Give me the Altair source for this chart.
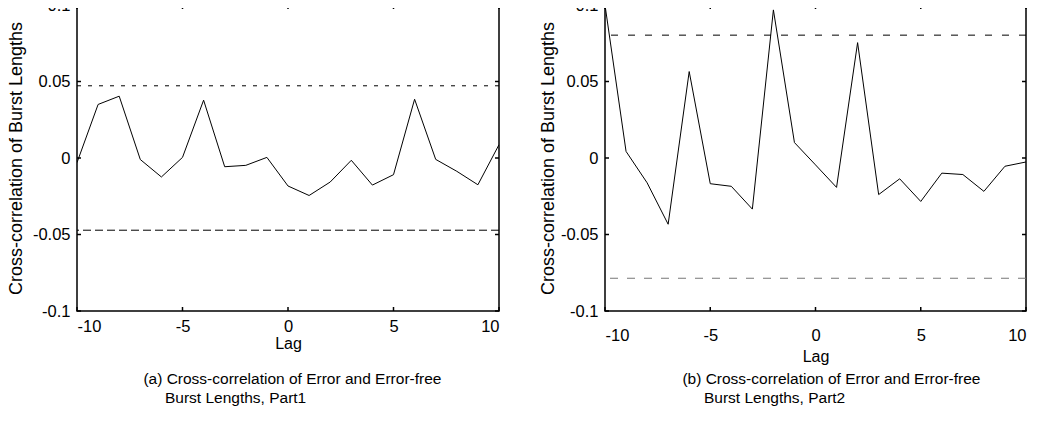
import altair as alt
import pandas as pd

lags = list(range(-10, 11))
part1 = [-0.003, 0.035, 0.0404, -0.001, -0.0124, 0.0004, 0.0378, -0.0057, -0.0048, 0.0004,
         -0.0183, -0.0245, -0.0157, -0.0015, -0.0177, -0.0109, 0.0384, -0.0009, -0.0087,
         -0.0175, 0.0087]
part2 = [0.1, 0.0043, -0.0162, -0.0433, 0.0565, -0.0168, -0.0185, -0.0334, 0.0968, 0.0101,
         -0.0045, -0.0192, 0.0754, -0.0239, -0.0136, -0.0284, -0.0099, -0.0108, -0.0218,
         -0.0054, -0.0026]
conf1 = [0.0472, -0.0472]
conf2 = [0.0803, -0.0786]
x_ticks = [-10, -5, 0, 5, 10]
y_ticks = [-0.1, -0.05, 0, 0.05, 0.1]
y_title = "Cross-correlation of Burst Lengths"
x_title = "Lag"
IND = "\u200b" + "\u00a0" * 5
captions = [
    ["(a) Cross-correlation of Error and Error-free", IND + "Burst Lengths, Part1"],
    ["(b) Cross-correlation of Error and Error-free", IND + "Burst Lengths, Part2"],
]

FONT = "Liberation Sans"


def panel(values, conf, W, H, label_pad, title_pad_x, y_title_pad, dash_styles):
    df = pd.DataFrame({"lag": lags, "r": values})
    xs = alt.Scale(domain=[-10, 10], nice=False, zero=False)
    ys = alt.Scale(domain=[-0.1, 0.1], nice=False, zero=False)
    xax = alt.Axis(values=x_ticks, labelExpr="toString(datum.value)", ticks=False, domain=False,
                   grid=False, labelPadding=label_pad, titlePadding=title_pad_x,
                   labelFontSize=16.5, titleFontSize=16, titleFontWeight="normal",
                   labelFont=FONT, titleFont=FONT, labelColor="black", titleColor="black")
    yax = alt.Axis(values=y_ticks,
                   labelExpr="datum.value == 0 ? '0' : toString(round(datum.value*100)/100)",
                   ticks=False, domain=False, grid=False, labelPadding=7,
                   titlePadding=y_title_pad,
                   labelFontSize=16.5, titleFontSize=18, titleFontWeight="normal",
                   labelFont=FONT, titleFont=FONT, labelColor="black", titleColor="black")
    line = alt.Chart(df).mark_line(color="black", strokeWidth=1, clip=True).encode(
        x=alt.X("lag:Q", scale=xs, axis=xax, title=x_title),
        y=alt.Y("r:Q", scale=ys, axis=yax, title=y_title),
    )
    layers = [line]
    for val, (dash, col) in zip(conf, dash_styles):
        cdf = pd.DataFrame({"c": [val]})
        layers.append(alt.Chart(cdf).mark_rule(color=col, strokeWidth=1, strokeDash=dash).encode(
            y=alt.Y("c:Q", scale=ys)))
    tx = pd.DataFrame({"t": x_ticks})
    ty = pd.DataFrame({"t": y_ticks})
    layers.append(alt.Chart(tx).mark_rule(color="black", strokeWidth=1.5).encode(
        x=alt.X("t:Q", scale=xs), y=alt.value(H), y2=alt.value(H - 4)))
    layers.append(alt.Chart(tx).mark_rule(color="black", strokeWidth=1.5).encode(
        x=alt.X("t:Q", scale=xs), y=alt.value(0), y2=alt.value(4)))
    layers.append(alt.Chart(ty).mark_rule(color="black", strokeWidth=1.5).encode(
        y=alt.Y("t:Q", scale=ys), x=alt.value(0), x2=alt.value(4)))
    layers.append(alt.Chart(ty).mark_rule(color="black", strokeWidth=1.5).encode(
        y=alt.Y("t:Q", scale=ys), x=alt.value(W), x2=alt.value(W - 4)))
    return alt.layer(*layers).properties(width=W, height=H)


def cap(lines, dx, offset):
    return alt.TitleParams(lines, orient="bottom", anchor="start", align="left", dx=dx,
                           offset=offset, fontSize=15.5, font=FONT, fontWeight="normal",
                           lineHeight=19.5, color="black")


left = panel(part1, conf1, 422, 306, 7, 1, 7,
             [([4, 7], "black"), ([8, 4], "black")]).properties(title=cap(captions[0], 136, 20))
right = panel(part2, conf2, 421, 306, 16, 5, 3,
              [([7, 10], "black"), ([8, 9], "#777777")]).properties(title=cap(captions[1], 143, 7))

chart = alt.hconcat(left, right, spacing=37).properties(
    padding={"left": -2, "top": -12, "right": 0, "bottom": 0}
).configure_view(stroke="black", strokeWidth=1.5)

chart.save("out.html", embed_options={"renderer": "svg", "actions": False})
